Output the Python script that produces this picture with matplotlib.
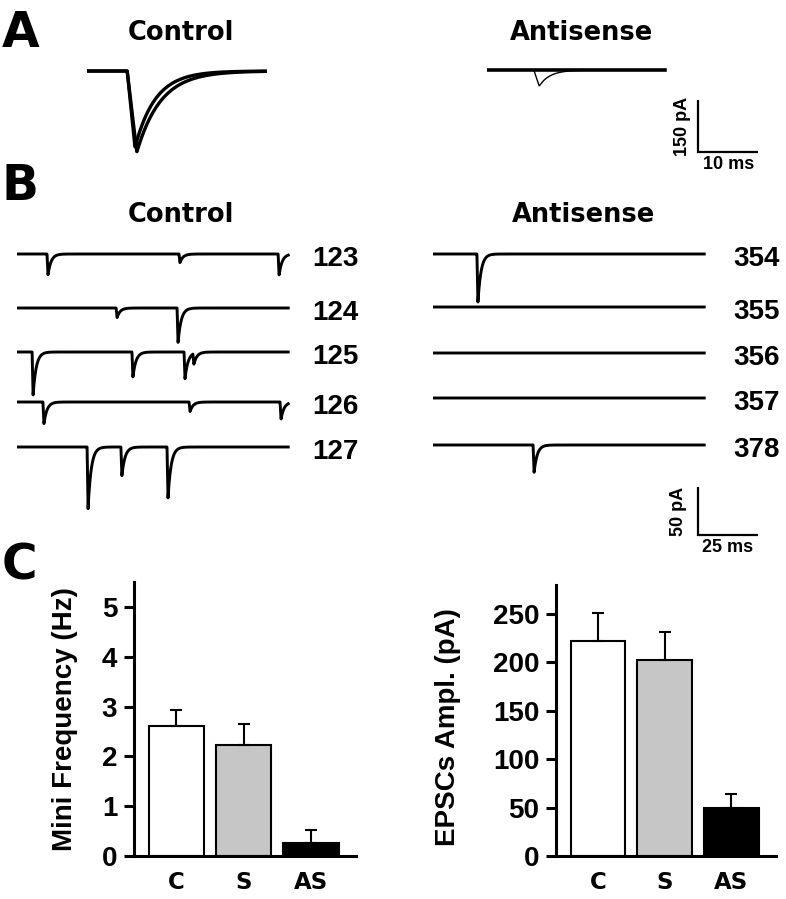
import matplotlib
matplotlib.use("Agg")
import matplotlib.pyplot as plt
import numpy as np

plt.rcParams['font.family'] = ['Liberation Sans', 'DejaVu Sans']
plt.rcParams['font.weight'] = 'bold'

# ---- data ----
# panel A: averaged EPSCs, (onset ms, rise ms, amplitude pA, decay ms)
a_control = [(6.7, 1.6, 234, 4.0), (6.7, 1.3, 220, 3.4)]
a_antisense = [(7.8, 0.9, 46, 1.8)]
a_span = 29.7  # ms shown

# panel B: spontaneous events per sweep, (time ms, amplitude pA)
b_control_ids = ['123', '124', '125', '126', '127']
b_control_events = [
    [(12.5, 22), (67.5, 9), (108.8, 22)],
    [(41.3, 10), (66.7, 36)],
    [(6.3, 45), (47.9, 26), (69.6, 28), (73.3, 11)],
    [(10.8, 23), (71.7, 10), (109.6, 18)],
    [(29.2, 65), (43.3, 30), (62.5, 54)],
]
b_antisense_ids = ['354', '355', '356', '357', '378']
b_antisense_events = [
    [(18.3, 51)],
    [],
    [],
    [],
    [(41.7, 29)],
]
b_span = 113  # ms per sweep

# panel C
groups = ['C', 'S', 'AS']
freq = [2.61, 2.22, 0.27]
freq_sem = [0.32, 0.43, 0.25]
ampl = [222, 202, 50]
ampl_sem = [29, 29, 14]
bar_colors = ['white', '#c6c6c6', 'black']

# ---- layout helpers (pixels of a 786x899 canvas) ----
W, H = 786, 899
fig = plt.figure(figsize=(7.86, 8.99), dpi=100)


def fx(x):
    return x / W


def fy(y):
    return 1 - y / H


def px_axes(left, top, w, h):
    return fig.add_axes([left / W, 1 - (top + h) / H, w / W, h / H])


def trace_axes(left, top, w, h, base, px_ms, px_pa):
    ax = px_axes(left, top, w, h)
    ax.set_xlim(0, w / px_ms)
    ax.set_ylim(-(top + h - base) / px_pa, (base - top) / px_pa)
    ax.axis('off')
    return ax


def epsc(t, onset, rise, amp, decay):
    y = np.zeros_like(t)
    r = (t >= onset) & (t < onset + rise)
    y[r] = -amp * (t[r] - onset) / rise
    d = t >= onset + rise
    y[d] = -amp * np.exp(-(t[d] - onset - rise) / decay)
    return y


def scale_bar(ax, x, y, dx, dy, xlab, ylab, ypad):
    ax.plot([x, x, x + dx], [y + dy, y, y], color='k', lw=1.6,
            solid_joinstyle='miter', solid_capstyle='butt')
    ax.annotate(xlab, (x + dx / 2, y), xytext=(0, -3), textcoords='offset points',
                ha='center', va='top', fontsize=13, fontweight='bold')
    ax.annotate(ylab, (x, y + dy / 2), xytext=(-ypad, 0), textcoords='offset points',
                ha='right', va='center', rotation=90, fontsize=13, fontweight='bold')


letter_kw = dict(fontsize=35, fontweight='bold', family='DejaVu Sans', va='baseline')
title_kw = dict(fontsize=18.5, fontweight='bold', family='DejaVu Sans',
                ha='center', va='baseline')

# ---- panel A ----
fig.text(fx(2), fy(47), 'A', **letter_kw)
fig.text(fx(181), fy(40), 'Control', **title_kw)
fig.text(fx(582), fy(40), 'Antisense', **title_kw)

PX_MS_A, PX_PA_A = 6.0, 52 / 150
ta = np.linspace(0, a_span, 800)

axA1 = trace_axes(87, 50, 180, 130, 71, PX_MS_A, PX_PA_A)
for ev in a_control:
    axA1.plot(ta, epsc(ta, *ev), color='k', lw=2.4)

axA2 = trace_axes(487, 50, 290, 140, 70, PX_MS_A, PX_PA_A)
axA2.plot(ta, np.zeros_like(ta), color='k', lw=2.6)
for ev in a_antisense:
    axA2.plot(ta, epsc(ta, *ev), color='k', lw=1.0)
scale_bar(axA2, 35.2, -236.5, 10, 150, '10 ms', '150 pA', 5)

# ---- panel B ----
fig.text(fx(2), fy(200), 'B', **letter_kw)
fig.text(fx(181), fy(222), 'Control', **title_kw)
fig.text(fx(583), fy(222), 'Antisense', **title_kw)

PX_MS_B, PX_PA_B = 2.4, 0.96
tb = np.linspace(0, b_span, 3000)
rows_control = [254, 308, 352, 402, 447]
rows_antisense = [254, 307, 353, 398, 445]

axB1 = trace_axes(17, 230, 280, 290, 254, PX_MS_B, PX_PA_B)
axB2 = trace_axes(433, 230, 340, 340, 254, PX_MS_B, PX_PA_B)

for ax, ids, evlist, rows, lab_x in [
        (axB1, b_control_ids, b_control_events, rows_control, 312),
        (axB2, b_antisense_ids, b_antisense_events, rows_antisense, 733)]:
    for name, evs, row in zip(ids, evlist, rows):
        off = -(row - rows[0]) / PX_PA_B
        y = np.full_like(tb, off)
        for t0, amp in evs:
            y += epsc(tb, t0, 0.4, amp, 1.3)
        ax.plot(tb, y, color='k', lw=2.1)
        fig.text(fx(lab_x), fy(row + 12), name, fontsize=20, fontweight='bold',
                 ha='left', va='baseline')

scale_bar(axB2, 110.4, -292.7, 25, 50, '25 ms', '50 pA', 8)

# ---- panel C ----
fig.text(fx(2), fy(579), 'C', **letter_kw)

x = np.arange(len(groups))
axC1 = px_axes(134, 582, 222, 274)
axC2 = px_axes(556, 585, 220, 271)

for ax, vals, sem, ylim, yticks, ylabel, lab_xy in [
        (axC1, freq, freq_sem, 5.5, np.arange(0, 6, 1), 'Mini Frequency (Hz)', (-0.252, 0.5)),
        (axC2, ampl, ampl_sem, 280, np.arange(0, 251, 50), 'EPSCs Ampl. (pA)', (-0.43, 0.476))]:
    ax.bar(x, vals, width=0.82, color=bar_colors, edgecolor='k', linewidth=1.5, zorder=2)
    ax.errorbar(x, vals, yerr=[np.zeros(len(vals)), sem], fmt='none', ecolor='k',
                elinewidth=1.5, capsize=4, capthick=1.5, zorder=3)
    ax.set_xlim(-0.63, 2.67)
    ax.set_ylim(0, ylim)
    ax.set_yticks(yticks)
    ax.set_xticks(x)
    ax.set_xticklabels(groups, family='DejaVu Sans', fontsize=16.5, fontweight='bold')
    ax.tick_params(axis='x', length=0, pad=11)
    ax.tick_params(axis='y', length=7.5, width=2.2, pad=4.5, labelsize=20)
    for s in ['top', 'right']:
        ax.spines[s].set_visible(False)
    for s in ['left', 'bottom']:
        ax.spines[s].set_linewidth(2.2)
    ax.set_ylabel(ylabel, fontsize=20, fontweight='bold')
    ax.yaxis.set_label_coords(*lab_xy)
    ax.patch.set_alpha(0)

fig.savefig('out.png', dpi=100)
